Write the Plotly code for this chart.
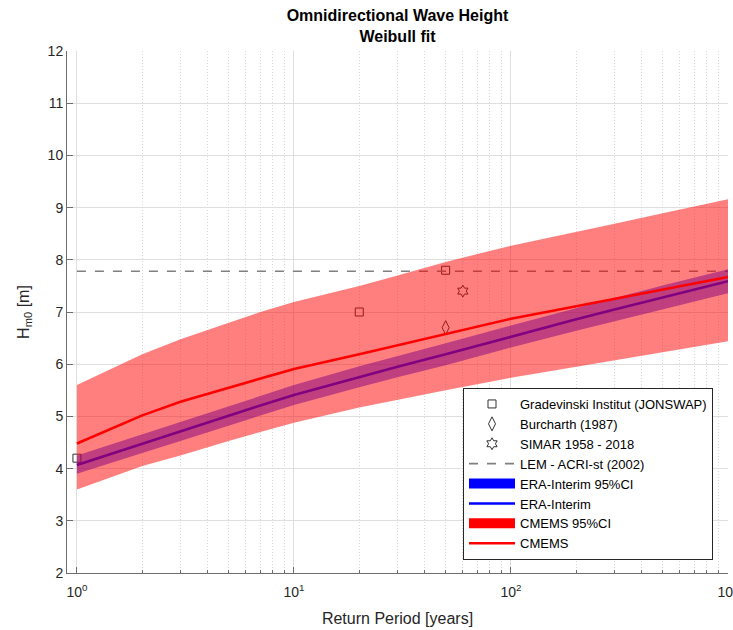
import plotly.graph_objects as go

# ---------------- data ----------------
T = [1, 2, 3, 5, 7, 10, 20, 30, 50, 100, 200, 300, 500, 1000]

era_line = [4.07, 4.48, 4.71, 5.01, 5.21, 5.41, 5.76, 5.95, 6.19, 6.53, 6.86, 7.05, 7.28, 7.59]
era_lo = [3.90, 4.30, 4.53, 4.82, 5.02, 5.22, 5.56, 5.75, 5.98, 6.32, 6.64, 6.83, 7.05, 7.36]
era_hi = [4.25, 4.66, 4.89, 5.20, 5.40, 5.60, 5.96, 6.15, 6.40, 6.74, 7.08, 7.27, 7.51, 7.82]

cmems_line = [4.48, 5.02, 5.28, 5.55, 5.73, 5.91, 6.19, 6.36, 6.58, 6.87, 7.11, 7.25, 7.43, 7.67]
cmems_lo = [3.60, 4.05, 4.25, 4.53, 4.70, 4.88, 5.17, 5.32, 5.50, 5.74, 5.96, 6.08, 6.23, 6.44]
cmems_hi = [5.60, 6.19, 6.48, 6.80, 7.00, 7.19, 7.50, 7.70, 7.96, 8.27, 8.53, 8.69, 8.89, 9.16]

grad_T = [1, 20, 50]
grad_H = [4.2, 7.0, 7.8]
burch_T = [50]
burch_H = [6.7]
simar_T = [60]
simar_H = [7.4]
lem_T = [1, 1000]
lem_H = [7.78, 7.78]

xtick_vals = [1, 10, 100, 1000]
xtick_text = ["10<sup>0</sup>", "10<sup>1</sup>", "10<sup>2</sup>", "10<sup>3</sup>"]
minor_vals = [m * d for d in (1, 10, 100) for m in range(2, 10)]

FONT = "Liberation Sans, Arial, sans-serif"
MK = "rgb(50,50,50)"

fig = go.Figure()

fig.add_trace(go.Scatter(x=grad_T, y=grad_H, mode="markers", name="Gradevinski Institut (JONSWAP)",
                         marker=dict(symbol="square-open", size=8, color=MK, line=dict(width=1))))
fig.add_trace(go.Scatter(x=burch_T, y=burch_H, mode="markers", name="Burcharth (1987)",
                         marker=dict(symbol="diamond-tall-open", size=10, color=MK, line=dict(width=1))))
fig.add_trace(go.Scatter(x=simar_T, y=simar_H, mode="markers", name="SIMAR 1958 - 2018",
                         marker=dict(symbol="hexagram-open", size=9, color=MK, line=dict(width=1))))
fig.add_trace(go.Scatter(x=lem_T, y=lem_H, mode="lines", name="LEM - ACRI-st (2002)",
                         line=dict(color="rgb(128,128,128)", width=1.6, dash="dash")))

# ERA-Interim CI band
fig.add_trace(go.Scatter(x=T + T[::-1], y=era_hi + era_lo[::-1], fill="toself",
                         fillcolor="rgba(0,0,255,0.5)", line=dict(width=0), mode="lines",
                         showlegend=False, hoverinfo="skip"))
fig.add_trace(go.Scatter(x=[None], y=[None], mode="lines",
                         line=dict(width=12, color="rgb(0,0,255)"),
                         name="ERA-Interim 95%CI"))
fig.add_trace(go.Scatter(x=T, y=era_line, mode="lines", name="ERA-Interim",
                         line=dict(color="rgb(0,0,255)", width=2.6)))

# CMEMS CI band
fig.add_trace(go.Scatter(x=T + T[::-1], y=cmems_hi + cmems_lo[::-1], fill="toself",
                         fillcolor="rgba(255,0,0,0.5)", line=dict(width=0), mode="lines",
                         showlegend=False, hoverinfo="skip"))
fig.add_trace(go.Scatter(x=[None], y=[None], mode="lines",
                         line=dict(width=12, color="rgb(255,0,0)"),
                         name="CMEMS 95%CI"))
fig.add_trace(go.Scatter(x=T, y=cmems_line, mode="lines", name="CMEMS",
                         line=dict(color="rgb(255,0,0)", width=2.6)))

AX = "rgb(38,38,38)"
LINE = "rgb(110,110,110)"
GRID = "rgb(223,223,223)"

fig.update_layout(
    width=733, height=630,
    margin=dict(l=67, r=5, t=51, b=57),
    paper_bgcolor="white", plot_bgcolor="white",
    font=dict(family=FONT, size=14, color=AX),
    title=dict(text="<b>Omnidirectional Wave Height</b><br><b>Weibull fit</b>",
               x=(67 + 728) / 2 / 733, xanchor="center", y=1 - 21 / 630, yanchor="middle",
               font=dict(family=FONT, size=16, color="black")),
    xaxis=dict(type="log", range=[-0.04576, 3], tickvals=xtick_vals, ticktext=xtick_text,
               ticks="inside", ticklen=6, tickcolor=LINE, showline=True, linecolor=LINE, linewidth=1,
               showgrid=True, gridcolor=GRID, gridwidth=1, zeroline=False,
               ticklabeloverflow="allow", automargin=False, ticklabelstandoff=6,
               tickfont=dict(size=14, color=AX),
               minor=dict(tickmode="array", tickvals=minor_vals, ticks="inside", ticklen=3,
                          tickcolor=LINE, showgrid=True, gridcolor="rgb(218,218,218)",
                          griddash="1px,2px", gridwidth=1),
               title=dict(text="Return Period [years]", font=dict(size=16, color=AX), standoff=14)),
    yaxis=dict(range=[2, 12], dtick=1, ticks="inside", ticklen=6, tickcolor=LINE,
               showline=True, linecolor=LINE, linewidth=1, showgrid=True, gridcolor=GRID,
               gridwidth=1, zeroline=False, tickfont=dict(size=14, color=AX), automargin=False,
               title=dict(text="H<sub>m0</sub> [m]", font=dict(size=16, color=AX), standoff=14)),
    legend=dict(x=(713 - 67) / 661, xanchor="right", y=(573 - 560) / 522, yanchor="bottom",
                bgcolor="white", bordercolor=AX, borderwidth=1,
                font=dict(family=FONT, size=13, color="black"), itemwidth=46,
                tracegroupgap=0),
    showlegend=True,
)

fig.write_html("out.html", config={"displayModeBar": False},
               post_script="document.body.style.margin='0';")
